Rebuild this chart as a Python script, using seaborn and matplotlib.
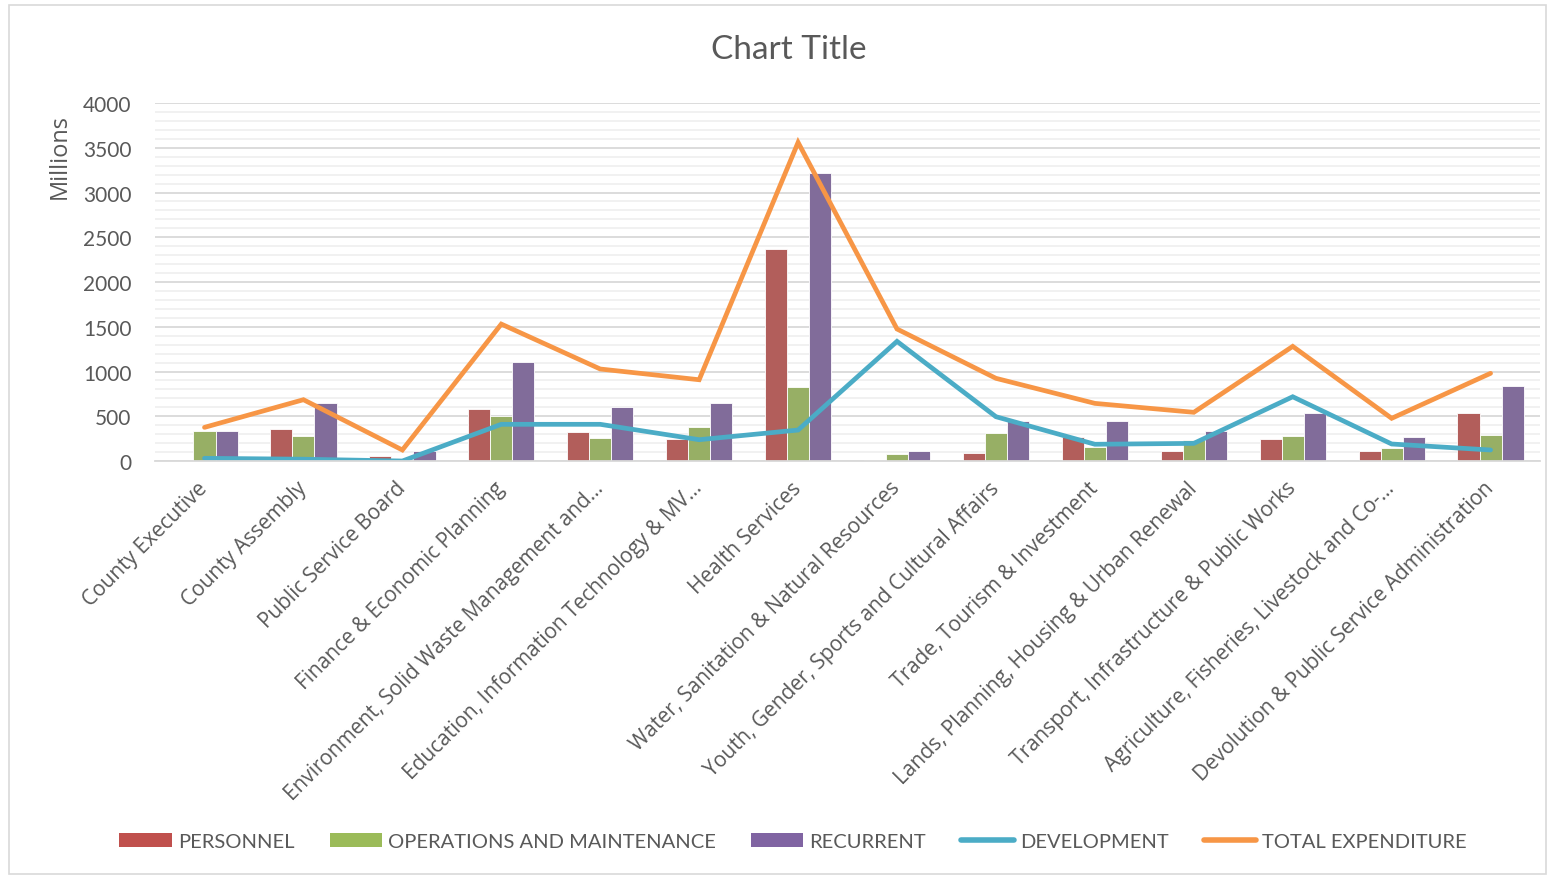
import numpy as np
import pandas as pd
import matplotlib
matplotlib.use("Agg")
import matplotlib.pyplot as plt
from matplotlib.patches import Patch, FancyBboxPatch
from matplotlib.lines import Line2D
from matplotlib.ticker import MultipleLocator
import seaborn as sns

# departments (x axis), values in millions
departments = [
    "County Executive",
    "County Assembly",
    "Public Service Board",
    "Finance & Economic Planning",
    "Environment, Solid Waste Management and\u2026",
    "Education, Information Technology & MV\u2026",
    "Health Services",
    "Water, Sanitation & Natural Resources",
    "Youth, Gender, Sports and Cultural Affairs",
    "Trade, Tourism & Investment",
    "Lands, Planning, Housing & Urban Renewal",
    "Transport, Infrastructure & Public Works",
    "Agriculture, Fisheries, Livestock and Co-\u2026",
    "Devolution & Public Service Administration",
]
personnel = [0, 357, 52, 581, 327, 246, 2368, 15, 89, 272, 108, 249, 112, 540]
operations = [339, 276, 10, 506, 257, 376, 827, 78, 313, 160, 230, 279, 142, 287]
recurrent = [339, 644, 108, 1102, 600, 648, 3214, 112, 450, 447, 331, 540, 268, 841]
development = [30, 20, 0, 410, 410, 238, 346, 1337, 495, 187, 197, 718, 190, 123]
total_expenditure = [376, 685, 123, 1530, 1028, 908, 3560, 1475, 924, 644, 544, 1281, 477, 980]

bar_names = ["PERSONNEL", "OPERATIONS AND MAINTENANCE", "RECURRENT"]
bar_colors = ["#C0504D", "#9BBB59", "#8064A2"]
dev_color = "#4BACC6"
tot_color = "#F79646"
text_color = "#595959"

df = pd.DataFrame({
    "Department": departments,
    "PERSONNEL": personnel,
    "OPERATIONS AND MAINTENANCE": operations,
    "RECURRENT": recurrent,
})
long_df = df.melt(id_vars="Department", var_name="Item", value_name="Amount")

sns.set_style("white")
plt.rcParams["font.family"] = ["Lato", "DejaVu Sans"]

fig = plt.figure(figsize=(15.52, 8.78), dpi=100)
ax = fig.add_axes([0.0999, 0.4738, 0.8924, 0.4077])

sns.barplot(data=long_df, x="Department", y="Amount", hue="Item",
            hue_order=bar_names, palette=bar_colors, width=0.67,
            edgecolor="white", linewidth=0.6, ax=ax, legend=False)

xs = np.arange(len(departments))
sns.lineplot(x=xs, y=development, color=dev_color, linewidth=3.4, ax=ax,
             solid_capstyle="round", solid_joinstyle="miter")
sns.lineplot(x=xs, y=total_expenditure, color=tot_color, linewidth=3.4, ax=ax,
             solid_capstyle="round", solid_joinstyle="miter")

ax.set_xlim(-0.5, len(departments) - 0.5)
ax.set_ylim(0, 4000)
ax.yaxis.set_major_locator(MultipleLocator(500))
ax.yaxis.set_minor_locator(MultipleLocator(100))
ax.grid(which="major", axis="y", color="#D9D9D9", linewidth=1.3)
ax.grid(which="minor", axis="y", color="#F0F0F0", linewidth=1.3)
ax.set_axisbelow(True)
for s in ["top", "right", "left"]:
    ax.spines[s].set_visible(False)
ax.spines["bottom"].set_color("#D9D9D9")
ax.spines["bottom"].set_linewidth(1.3)
ax.tick_params(axis="both", which="both", length=0)
ax.tick_params(axis="y", labelsize=15, labelcolor=text_color, pad=17)

ax.set_xticks(xs)
ax.set_xticklabels(departments, rotation=45, ha="right", va="center",
                   rotation_mode="anchor", fontsize=15, color=text_color,
                   family=["Open Sans", "DejaVu Sans"])
ax.tick_params(axis="x", pad=17)
ax.set_xlabel("")
ax.set_ylabel("")

fig.text(0.0387, 0.822, "Millions", rotation=90, ha="center", va="center",
         fontsize=17, color=text_color, family=["Open Sans", "DejaVu Sans"])
fig.text(0.508, 0.943, "Chart Title", ha="center", va="center",
         fontsize=24, color=text_color)

handles = [Patch(facecolor=c, edgecolor="none") for c in bar_colors]
handles += [Line2D([0], [0], color=dev_color, lw=4, solid_capstyle="round"),
            Line2D([0], [0], color=tot_color, lw=4, solid_capstyle="round")]
labels = bar_names + ["DEVELOPMENT", "TOTAL EXPENDITURE"]
fig.legend(handles, labels, loc="center", bbox_to_anchor=(0.511, 0.04),
           ncol=5, frameon=False, fontsize=14.5, labelcolor=text_color,
           handlelength=2.6, handleheight=0.7, handletextpad=0.3,
           columnspacing=1.75)

# outer chart border
fig.patches.append(FancyBboxPatch((0.006, 0.003), 0.99, 0.99, transform=fig.transFigure,
                                  boxstyle="square,pad=0", facecolor="none",
                                  edgecolor="#D9D9D9", linewidth=1.2))

fig.savefig("out.png", dpi=100)
